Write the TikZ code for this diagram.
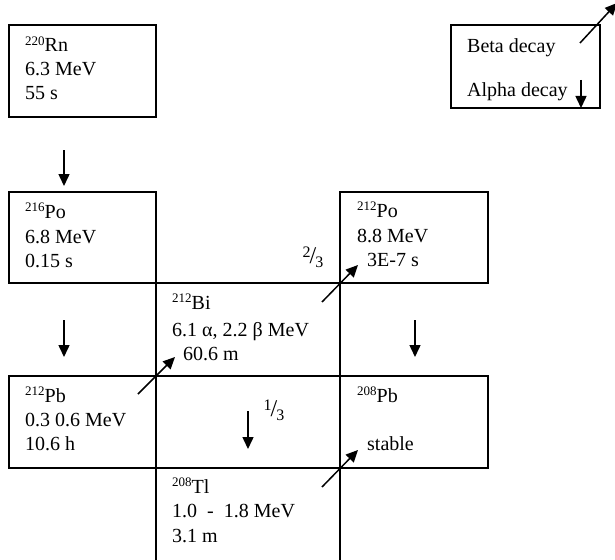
\documentclass[tikz,border=0pt]{standalone}
\usepackage{fontspec}
\setmainfont{Liberation Serif}
\usetikzlibrary{arrows.meta}
\newcommand{\iso}[2]{{\fontsize{13}{13}\selectfont\raisebox{6.5pt}{#1}}#2}
\newcommand{\frc}[2]{{\fontsize{16}{16}\selectfont\raisebox{6pt}{#1}\hspace{-1pt}{\fontsize{24}{24}\selectfont/}\hspace{-1pt}\raisebox{-4pt}{#2}}}
\begin{document}
\begin{tikzpicture}[x=1pt,y=-1pt,
  box/.style={draw, line width=1.2pt, anchor=north west, inner sep=0pt, outer sep=0pt},
  txt/.style={anchor=base west, inner sep=0pt, font=\fontsize{20}{24}\selectfont},
  decay/.style={line width=1.5pt, -{Triangle[length=12pt,width=11pt]}}]
\useasboundingbox (0,0) rectangle (615,559);
% boxes
\node[box, minimum width=147pt, minimum height=92pt] (rn) at (9,25) {};
\node[box, minimum width=149pt, minimum height=83pt] (leg) at (451,25) {};
\node[box, minimum width=147pt, minimum height=91pt] (po216) at (9,192) {};
\node[box, minimum width=184pt, minimum height=93pt] (bi) at (156,283) {};
\node[box, minimum width=148pt, minimum height=91pt] (po212) at (340,192) {};
\node[box, minimum width=147pt, minimum height=92pt] (pb212) at (9,376) {};
\node[box, minimum width=148pt, minimum height=92pt] (pb208) at (340,376) {};
\node[box, minimum width=184pt, minimum height=96pt] (tl) at (156,468) {};
% texts
\node[txt] (rn1) at (25,52) {\iso{220}{Rn}};
\node[txt] (rn2) at (25,76) {6.3 MeV};
\node[txt] (rn3) at (25,100) {55 s};
\node[txt] (leg1) at (467,53) {Beta decay};
\node[txt] (leg2) at (467,97) {Alpha decay};
\node[txt] (po1) at (25,218) {\iso{216}{Po}};
\node[txt] (po2) at (25,243) {6.8 MeV};
\node[txt] (po3) at (25,267) {0.15 s};
\node[txt] (bi1) at (172,309) {\iso{212}{Bi}};
\node[txt] (bi2) at (172,336) {6.1 α, 2.2 β MeV};
\node[txt] (bi3) at (183,360) {60.6 m};
\node[txt] (pz1) at (357,217) {\iso{212}{Po}};
\node[txt] (pz2) at (357,242) {8.8 MeV};
\node[txt] (pz3) at (367,266) {3E-7 s};
\node[txt] (pb1) at (25,402) {\iso{212}{Pb}};
\node[txt] (pb2) at (25,426) {0.3 0.6 MeV};
\node[txt] (pb3) at (25,450) {10.6 h};
\node[txt] (pc1) at (357,402) {\iso{208}{Pb}};
\node[txt] (pc2) at (367,450) {stable};
\node[txt] (tl1) at (172,493) {\iso{208}{Tl}};
\node[txt] (tl2) at (172,517) {1.0 \ - \ 1.8 MeV};
\node[txt] (tl3) at (172,542) {3.1 m};
\node[anchor=center, inner sep=0pt] (f23) at (313,257) {\frc{2}{3}};
\node[anchor=center, inner sep=0pt] (f13) at (274,410) {\frc{1}{3}};
% arrow ends
\coordinate (a1s) at (64,150); \coordinate (a1e) at (64,186);
\coordinate (a2s) at (64,320); \coordinate (a2e) at (64,357);
\coordinate (a3s) at (415,320); \coordinate (a3e) at (415,357);
\coordinate (a4s) at (248,411); \coordinate (a4e) at (248,449);
\coordinate (a5s) at (581,80); \coordinate (a5e) at (581,108);
\coordinate (b1s) at (138,394); \coordinate (b1e) at (175,357);
\coordinate (b2s) at (322,302); \coordinate (b2e) at (358,265);
\coordinate (b3s) at (322,487); \coordinate (b3e) at (358,450);
\coordinate (b4s) at (580,43); \coordinate (b4e) at (617,3);
\draw[decay] (a1s) -- (a1e);
\draw[decay] (a2s) -- (a2e);
\draw[decay] (a3s) -- (a3e);
\draw[decay] (a4s) -- (a4e);
\draw[decay] (a5s) -- (a5e);
\draw[decay] (b1s) -- (b1e);
\draw[decay] (b2s) -- (b2e);
\draw[decay] (b3s) -- (b3e);
\draw[decay] (b4s) -- (b4e);
\end{tikzpicture}
\end{document}
